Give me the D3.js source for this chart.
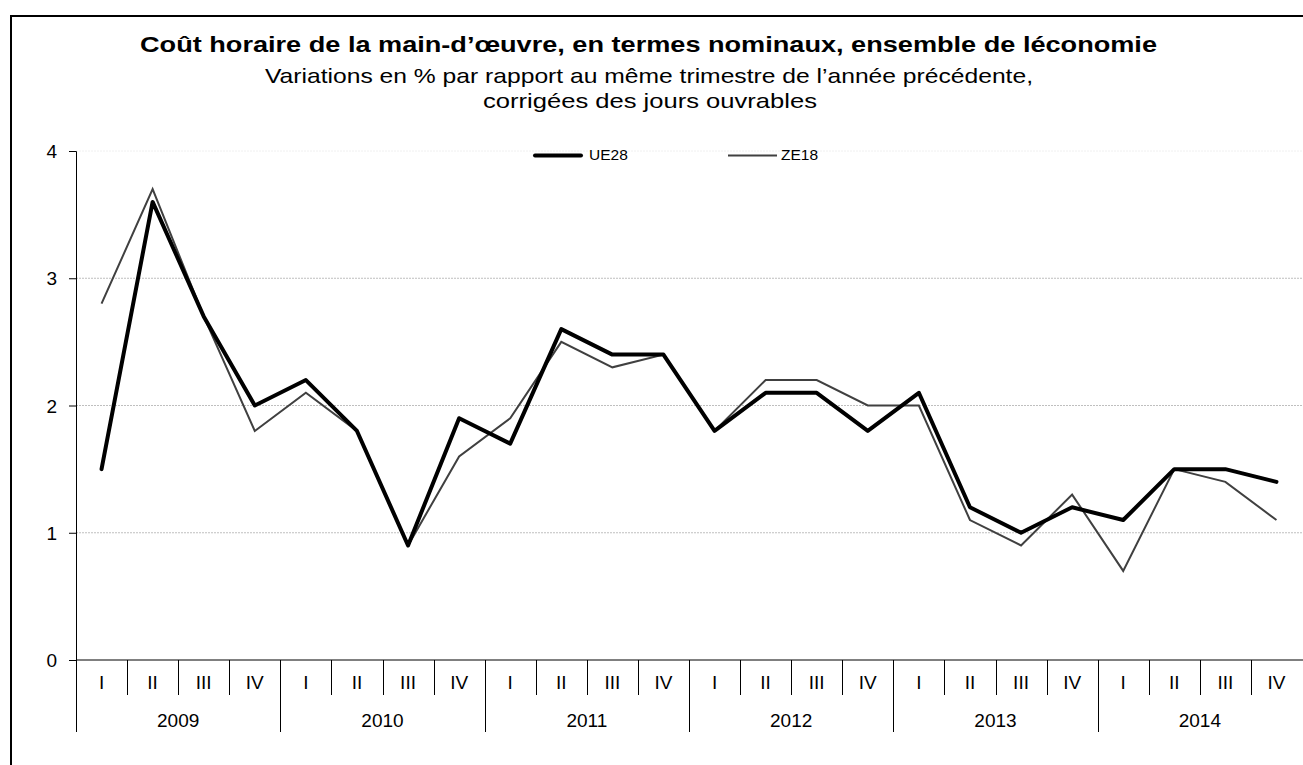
<!DOCTYPE html>
<html>
<head>
  <meta charset="utf-8">
  <script src="https://d3js.org/d3.v7.min.js"></script>
  <style>
    body { margin: 0; background: #fff; }
    text { font-family: "Liberation Sans", Arial, sans-serif; fill: #000; }
    .grid line { stroke: #bfbfbf; stroke-dasharray: 2,1; stroke-width: 1; }
  </style>
</head>
<body>
<script>
  var width = 1303,
      height = 765;

  var years = ["2009", "2010", "2011", "2012", "2013", "2014"];
  var quarters = ["I", "II", "III", "IV"];
  var ue28 = [1.5, 3.6, 2.7, 2.0, 2.2, 1.8, 0.9, 1.9, 1.7, 2.6, 2.4, 2.4,
              1.8, 2.1, 2.1, 1.8, 2.1, 1.2, 1.0, 1.2, 1.1, 1.5, 1.5, 1.4];
  var ze18 = [2.8, 3.7, 2.7, 1.8, 2.1, 1.8, 0.9, 1.6, 1.9, 2.5, 2.3, 2.4,
              1.8, 2.2, 2.2, 2.0, 2.0, 1.1, 0.9, 1.3, 0.7, 1.5, 1.4, 1.1];
  var yTicks = [0, 1, 2, 3, 4];

  var cats = [];
  years.forEach(function(y) {
    quarters.forEach(function(q) { cats.push(y + "-" + q); });
  });

  var svg = d3.select("body").append("svg")
      .attr("width", width)
      .attr("height", height);

  // outer frame (runs off the right and bottom edges)
  svg.append("rect")
      .attr("x", 11).attr("y", 16)
      .attr("width", 1400).attr("height", 900)
      .attr("fill", "none").attr("stroke", "#000").attr("stroke-width", 2);

  var x = d3.scaleBand().domain(cats).range([76, 1302]);
  var y = d3.scaleLinear().domain([0, 4]).range([660, 151]);

  // gridlines
  svg.append("g").attr("class", "grid")
    .selectAll("line").data(yTicks.filter(function(d) { return d > 0; }))
    .enter().append("line")
      .attr("x1", 76).attr("x2", 1302)
      .attr("y1", function(d) { return y(d); })
      .attr("y2", function(d) { return y(d); })
      .style("stroke", function(d) { return d === 4 ? "#f0f0f0" : null; });

  // y axis
  var yAxis = svg.append("g")
      .attr("transform", "translate(76,0)")
      .call(d3.axisLeft(y).tickValues(yTicks).tickFormat(d3.format("d")).tickSize(7).tickPadding(12));
  yAxis.select(".domain").attr("stroke", "#000");
  yAxis.selectAll("text").attr("font-size", null).style("font-size", "19px").attr("dy", "0.35em");

  // x axis line
  svg.append("line")
      .attr("x1", 76).attr("x2", 1303)
      .attr("y1", y(0)).attr("y2", y(0))
      .attr("stroke", "#000").attr("stroke-width", 1);

  // quarter separators
  svg.selectAll(".qtick").data(cats.slice(1))
    .enter().append("line")
      .attr("class", "qtick")
      .attr("x1", function(d) { return Math.round(x(d)) + 0.5; })
      .attr("x2", function(d) { return Math.round(x(d)) + 0.5; })
      .attr("y1", y(0)).attr("y2", 695)
      .attr("stroke", "#000");

  // year separators
  var yearEdges = years.map(function(yr) { return x(yr + "-I"); });
  svg.selectAll(".ytick").data(yearEdges)
    .enter().append("line")
      .attr("class", "ytick")
      .attr("x1", function(d) { return Math.round(d) + 0.5; })
      .attr("x2", function(d) { return Math.round(d) + 0.5; })
      .attr("y1", y(0)).attr("y2", 732)
      .attr("stroke", "#000");

  // quarter labels
  svg.selectAll(".qlab").data(cats)
    .enter().append("text")
      .attr("class", "qlab")
      .attr("x", function(d) { return x(d) + x.bandwidth() / 2; })
      .attr("y", 689)
      .attr("text-anchor", "middle")
      .style("font-size", "19px")
      .text(function(d) { return d.split("-")[1]; });

  // year labels
  svg.selectAll(".ylab").data(years)
    .enter().append("text")
      .attr("class", "ylab")
      .attr("x", function(d) { return x(d + "-I") + x.bandwidth() * 2; })
      .attr("y", 727)
      .attr("text-anchor", "middle")
      .style("font-size", "19px")
      .text(function(d) { return d; });

  var line = d3.line()
      .x(function(d, i) { return x(cats[i]) + x.bandwidth() / 2; })
      .y(function(d) { return y(d); });

  svg.append("path").datum(ze18)
      .attr("d", line)
      .attr("fill", "none").attr("stroke", "#404040").attr("stroke-width", 2)
      .attr("stroke-linejoin", "miter");

  svg.append("path").datum(ue28)
      .attr("d", line)
      .attr("fill", "none").attr("stroke", "#000").attr("stroke-width", 4)
      .attr("stroke-linejoin", "round").attr("stroke-linecap", "round");

  // legend
  var legend = svg.append("g");
  legend.append("line")
      .attr("x1", 535).attr("x2", 581).attr("y1", 155.5).attr("y2", 155.5)
      .attr("stroke", "#000").attr("stroke-width", 4).attr("stroke-linecap", "round");
  legend.append("text").attr("x", 589).attr("y", 160)
      .style("font-size", "15.5px").text("UE28");
  legend.append("line")
      .attr("x1", 728).attr("x2", 777).attr("y1", 155.5).attr("y2", 155.5)
      .attr("stroke", "#404040").attr("stroke-width", 2);
  legend.append("text").attr("x", 781).attr("y", 160)
      .style("font-size", "15.5px").text("ZE18");

  // titles
  svg.append("text")
      .attr("x", 140).attr("y", 52)
      .attr("textLength", 1017).attr("lengthAdjust", "spacingAndGlyphs")
      .style("font-size", "22px").style("font-weight", "bold")
      .text("Coût horaire de la main-d’œuvre, en termes nominaux, ensemble de léconomie");
  svg.append("text")
      .attr("x", 265).attr("y", 83)
      .attr("textLength", 768).attr("lengthAdjust", "spacingAndGlyphs")
      .style("font-size", "21px")
      .text("Variations en % par rapport au même trimestre de l’année précédente,");
  svg.append("text")
      .attr("x", 483).attr("y", 108)
      .attr("textLength", 334).attr("lengthAdjust", "spacingAndGlyphs")
      .style("font-size", "21px")
      .text("corrigées des jours ouvrables");
</script>
</body>
</html>
